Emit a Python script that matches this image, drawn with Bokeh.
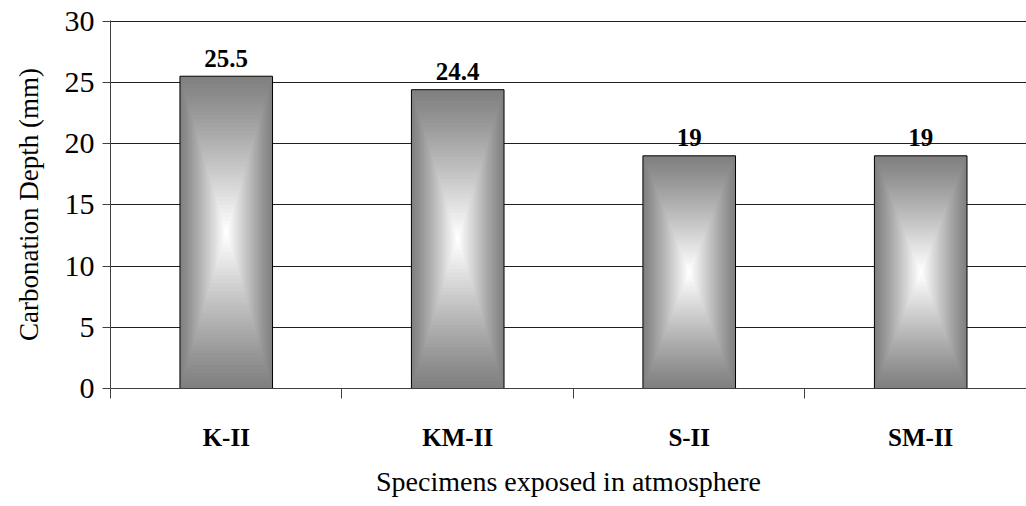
from bokeh.plotting import figure
from bokeh.models import Range1d, FixedTicker, ColumnDataSource
from bokeh.core.properties import value
from bokeh.embed import file_html
from bokeh.resources import INLINE

categories = ["K-II", "KM-II", "S-II", "SM-II"]
depths = [25.5, 24.4, 19, 19]
depth_labels = ["25.5", "24.4", "19", "19"]
y_ticks = [0, 5, 10, 15, 20, 25, 30]

FONT = "'Liberation Serif', 'Times New Roman', serif"
BAR_W = 0.4
N_STEPS = 40

centers = [i + 0.5 for i in range(len(categories))]

p = figure(width=1026, height=506,
           x_range=Range1d(0, 3.957), y_range=Range1d(0, 30.05),
           output_backend="svg", toolbar_location=None,
           min_border_left=110, min_border_right=0,
           min_border_top=20, min_border_bottom=118)
p.outline_line_color = None
p.background_fill_color = "white"
p.border_fill_color = "white"

# gradient bars (concentric rectangles, dark edges to white centre)
gx, gy, gw, gh, gc = [], [], [], [], []
for c, v in zip(centers, depths):
    for k in range(N_STEPS):
        t = 1 - k / N_STEPS
        g = int(round(128 + 127 * (k / (N_STEPS - 1)) ** 1.1))
        gx.append(c)
        gy.append(v / 2)
        gw.append(BAR_W * t)
        gh.append(v * t)
        gc.append("#%02x%02x%02x" % (g, g, g))
src = ColumnDataSource(dict(x=gx, y=gy, w=gw, h=gh, c=gc))
p.rect(x="x", y="y", width="w", height="h", fill_color="c", line_color=None, source=src)

bars = ColumnDataSource(dict(x=centers, top=depths, lab=depth_labels))
p.vbar(x="x", top="top", bottom=0, width=BAR_W, fill_color=None,
       line_color="black", line_width=1, source=bars)

p.text(x="x", y="top", text="lab", source=bars, text_font=value(FONT),
       text_font_style="bold", text_font_size="25px", text_align="center",
       text_baseline="alphabetic", y_offset=-18, text_color="black")

# grid
p.xgrid.visible = False
p.ygrid.ticker = FixedTicker(ticks=y_ticks)
p.ygrid.grid_line_color = "#202020"
p.ygrid.grid_line_width = 1

# y axis
p.yaxis.ticker = FixedTicker(ticks=y_ticks)
p.yaxis.axis_label = "Carbonation Depth (mm)"
p.yaxis.axis_label_text_font = FONT
p.yaxis.axis_label_text_font_style = "normal"
p.yaxis.axis_label_text_font_size = "27px"
p.yaxis.axis_label_text_color = "black"
p.yaxis.axis_label_standoff = 18
p.yaxis.major_label_text_font = FONT
p.yaxis.major_label_text_font_size = "30px"
p.yaxis.major_label_text_color = "black"
p.yaxis.major_label_standoff = 8
p.yaxis.major_tick_out = 8
p.yaxis.major_tick_in = 0
p.yaxis.minor_tick_out = 0
p.yaxis.axis_line_color = "#404040"
p.yaxis.major_tick_line_color = "#404040"

# x axis
p.xaxis.ticker = FixedTicker(ticks=centers, minor_ticks=list(range(len(categories) + 1)))
p.xaxis.major_label_overrides = {c: lab for c, lab in zip(centers, categories)}
p.xaxis.major_tick_out = 0
p.xaxis.major_tick_in = 0
p.xaxis.minor_tick_out = 10
p.xaxis.minor_tick_in = 0
p.xaxis.minor_tick_line_color = "#404040"
p.xaxis.axis_line_color = "#404040"
p.xaxis.major_label_text_font = FONT
p.xaxis.major_label_text_font_style = "bold"
p.xaxis.major_label_text_font_size = "25px"
p.xaxis.major_label_text_color = "black"
p.xaxis.major_label_standoff = 25
p.xaxis.axis_label = "Specimens exposed in atmosphere"
p.xaxis.axis_label_text_font = FONT
p.xaxis.axis_label_text_font_style = "normal"
p.xaxis.axis_label_text_font_size = "28px"
p.xaxis.axis_label_text_color = "black"
p.xaxis.axis_label_standoff = 12

open("out.html", "w").write(file_html(p, INLINE))
